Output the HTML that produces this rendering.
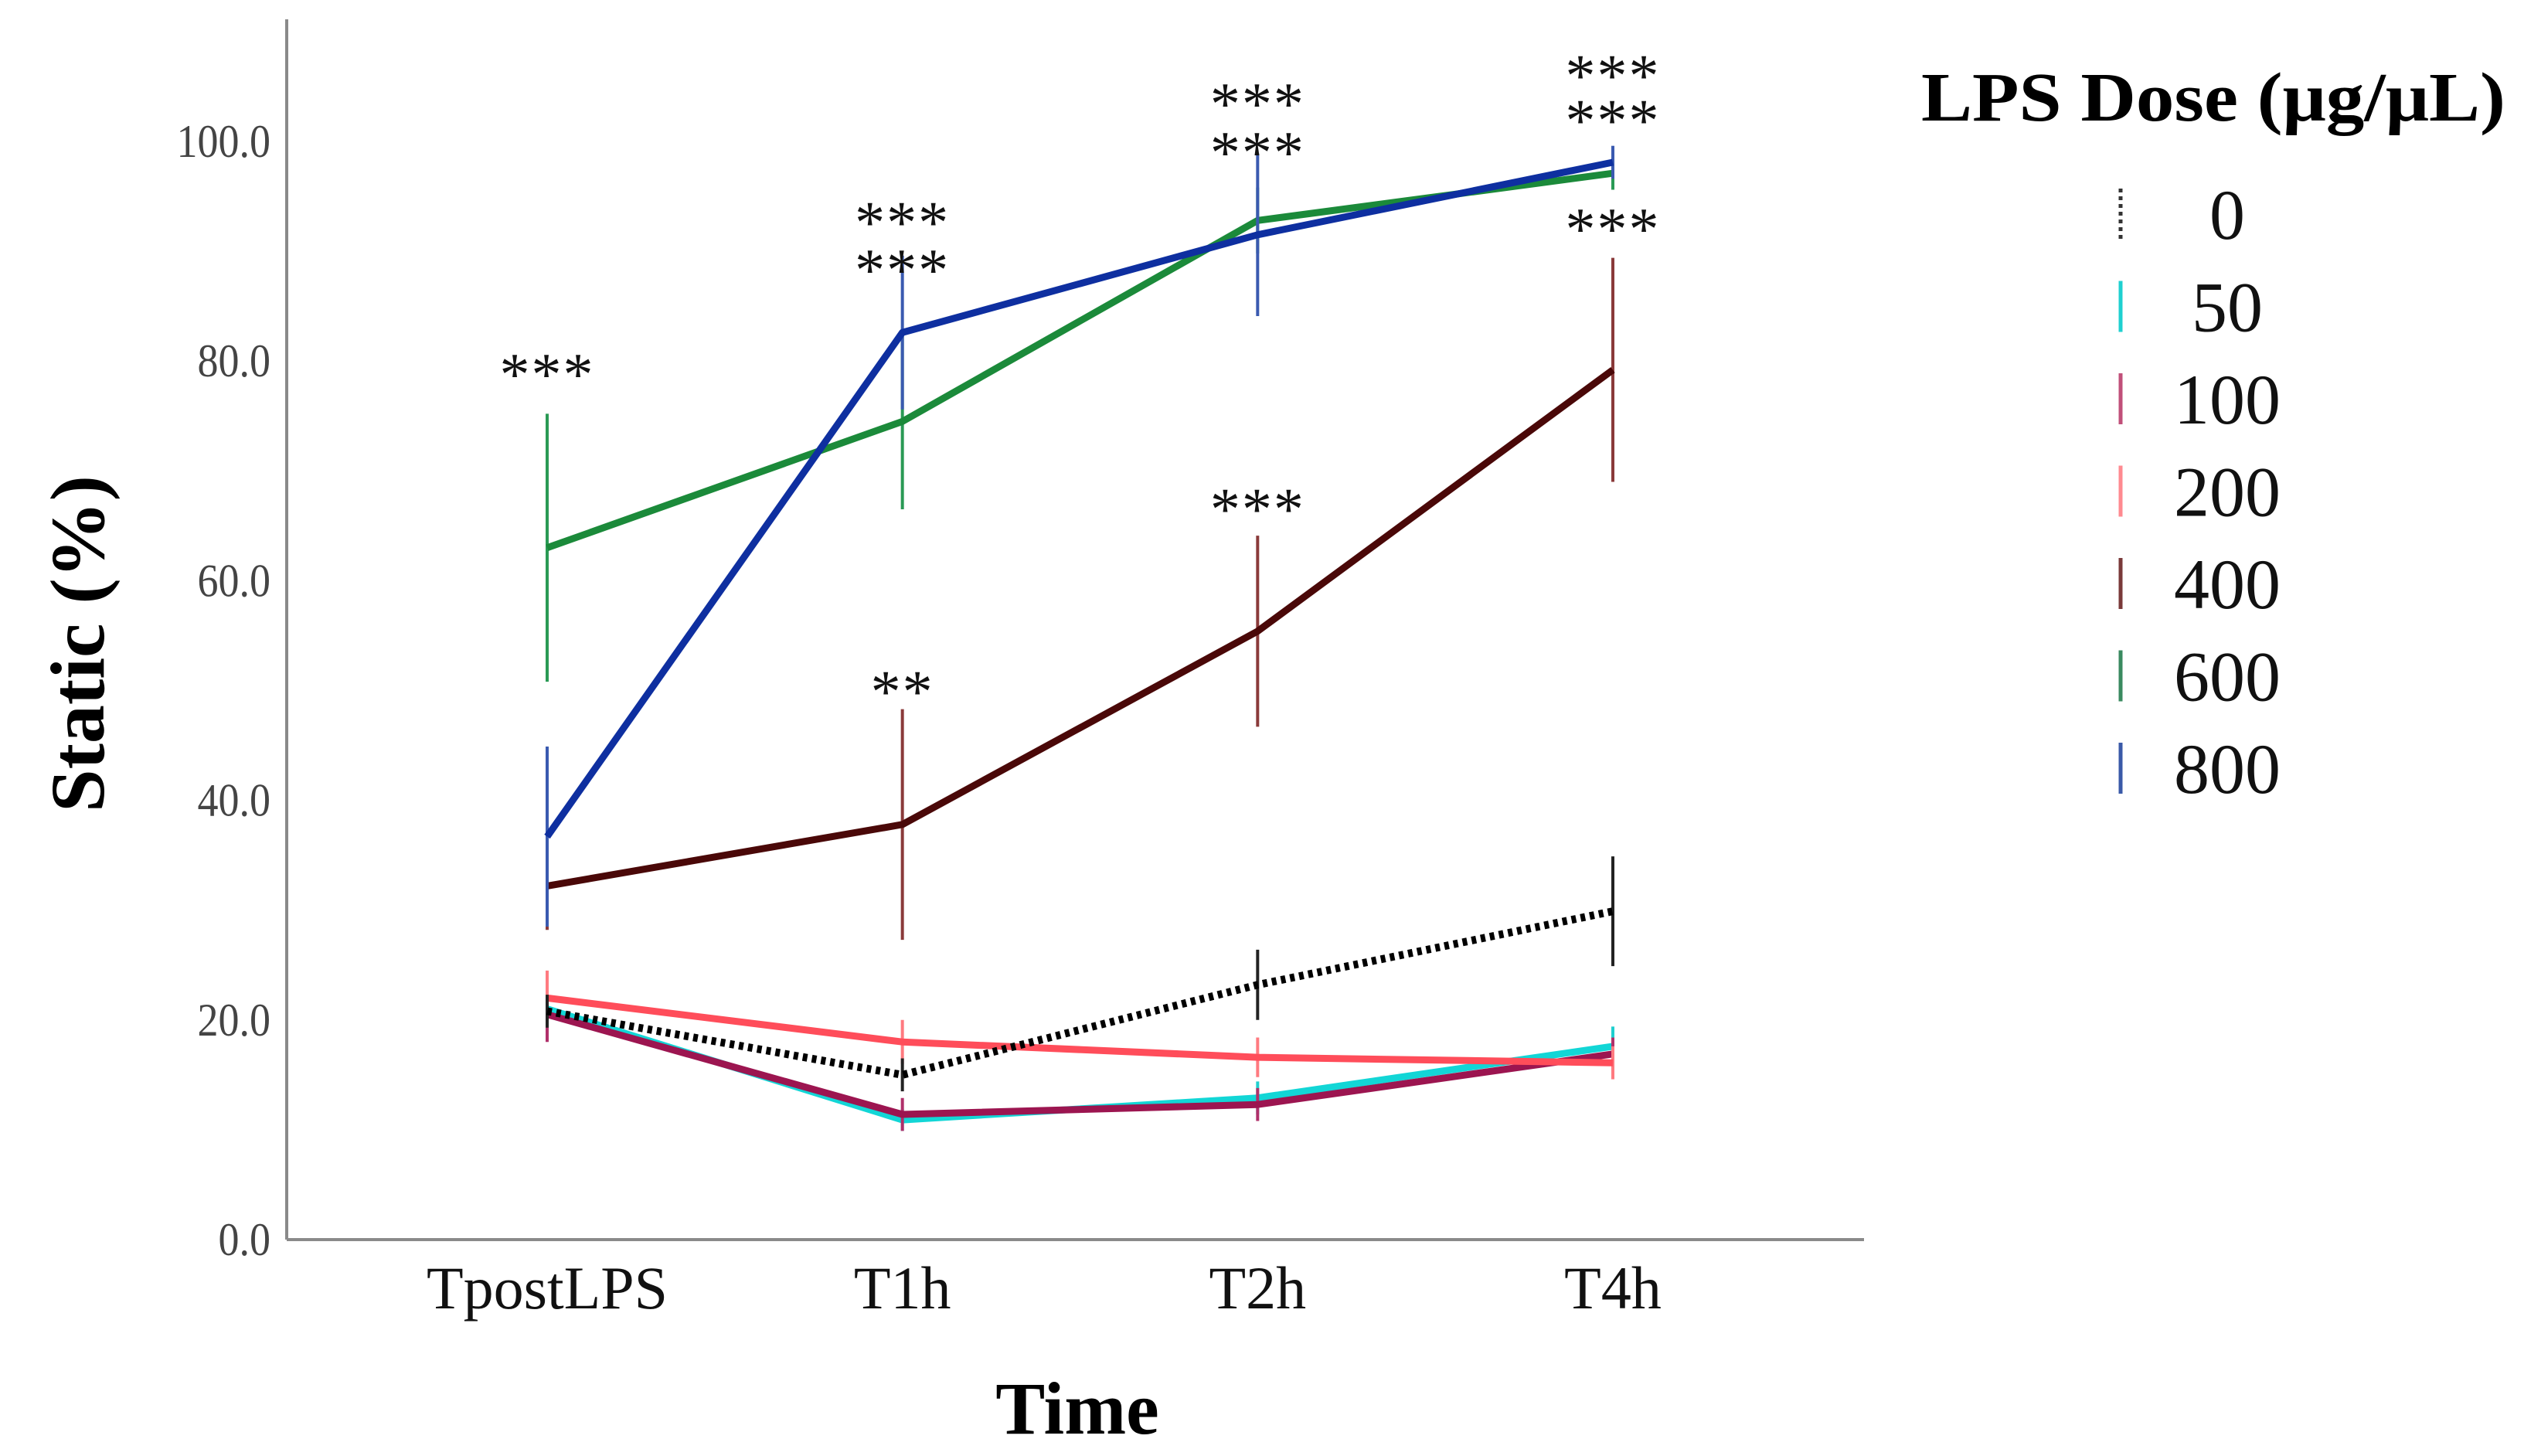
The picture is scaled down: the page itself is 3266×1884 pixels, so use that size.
<!DOCTYPE html>
<html><head><meta charset="utf-8"><style>
html,body{margin:0;padding:0;background:#fff;}
svg{display:block;}
text{font-family:"Liberation Serif","DejaVu Serif",serif;}
</style></head><body>
<svg id="chart" width="3266" height="1884" viewBox="0 0 3266 1884" xmlns="http://www.w3.org/2000/svg">
<g id="axes"></g>
<g id="series"></g>
<g id="stars"></g>
<g id="legend"></g>
</svg>
<script>
const categories = ["TpostLPS","T1h","T2h","T4h"];
const yTicks = [0,20,40,60,80,100];
const doses = ["0","50","100","200","400","600","800"];
const v0   = [20.8,15.0,23.2,29.9];
const v50  = [21.0,10.9,12.9,17.6];
const v100 = [20.5,11.4,12.3,16.9];
const v200 = [22.0,18.0,16.6,16.1];
const v400 = [32.2,37.8,55.4,79.2];
const v600 = [63.0,74.5,92.8,97.1];
const v800 = [36.7,82.6,91.5,98.1];
const e0   = [1.5,1.5,3.2,5.0];
const e50  = [1.5,1.0,1.5,1.8];
const e100 = [2.5,1.5,1.5,1.5];
const e200 = [2.5,2.0,1.8,1.5];
const e400 = [4.0,10.5,8.7,10.2];
const e600 = [12.2,8.0,3.0,1.5];
const e800 = [8.2,7.0,7.4,1.5];
const starLabels = ["***","***","***","**","***","***","***","***","***","***"];
const starCat    = [0,1,1,1,2,2,2,3,3,3];
const starVal    = [79.5,93.3,89.0,50.6,104.1,99.7,67.2,106.7,102.6,92.7];

const NS="http://www.w3.org/2000/svg";
const X0=371, XR=2412, YTOP=25, Y0=1604, Y100=183;
const catX=[708,1164,1625,2087];
function xs(i){return catX[0]+(catX[3]-catX[0])*i/(categories.length-1);}
function ys(v){return Y0-(Y0-Y100)*v/100;}
function mk(tag,attrs,parent){const e=document.createElementNS(NS,tag);for(const k in attrs)e.setAttribute(k,attrs[k]);parent.appendChild(e);return e;}

const axes=document.getElementById('axes');
let yl=mk('line',{x1:X0,y1:YTOP,x2:X0,y2:Y0,stroke:'#8a8a8a','stroke-width':4},axes);


let xl=mk('line',{x1:X0,y1:Y0,x2:XR,y2:Y0,stroke:'#8a8a8a','stroke-width':4},axes);


yTicks.forEach(t=>{
  const tx=mk('text',{x:350,y:ys(t)+20,'text-anchor':'end','font-size':60,fill:'#444',transform:`translate(350 0) scale(0.9 1) translate(-350 0)`},axes);
  tx.textContent=t.toFixed(1);
  
  
});
categories.forEach((c,i)=>{
  const tx=mk('text',{x:xs(i),y:1693,'text-anchor':'middle','font-size':78,fill:'#111'},axes);
  tx.textContent=c;
  
  
});
let xt=mk('text',{x:1394,y:1855,'text-anchor':'middle','font-size':96,'font-weight':'bold',fill:'#000'},axes);
xt.textContent='Time';


let yt=mk('text',{x:0,y:0,'text-anchor':'middle','font-size':100,'font-weight':'bold',fill:'#000',transform:'translate(134 833) rotate(-90)'},axes);
yt.textContent='Static (%)';



const seriesVals=[v0,v50,v100,v200,v400,v600,v800];
const seriesErr=[e0,e50,e100,e200,e400,e600,e800];
const lineCol=['#000','#12d6d6','#9c1550','#ff4d5a','#4a0808','#1b8a3a','#0e2fa0'];
const errCol=['#222','#1fcfcf','#b0306a','#ff7a80','#8a3a3a','#2a9a55','#3a5ab0'];
const sg=document.getElementById('series');
[1,2,3,0,4,5,6].forEach(s=>{
  const g=mk('g',{},sg);
  
  
  seriesVals[s].forEach((v,i)=>{
    const e=seriesErr[s][i];
    const b=mk('line',{x1:xs(i),x2:xs(i),y1:ys(v+e),y2:ys(v-e),stroke:errCol[s],'stroke-width':4},g);
    
    
  });
  const pts=seriesVals[s].map((v,i)=>xs(i)+','+ys(v)).join(' ');
  const attrs={points:pts,fill:'none',stroke:lineCol[s],'stroke-width':9,'stroke-linejoin':'round'};
  if(s===0){attrs['stroke-dasharray']='6 6';attrs['stroke-width']=10;}
  const pl=mk('polyline',attrs,g);
  
  
});

const stg=document.getElementById('stars');
starLabels.forEach((l,k)=>{
  const t=mk('text',{x:xs(starCat[k]),y:ys(starVal[k])+36,'text-anchor':'middle','font-size':78,fill:'#111','letter-spacing':'2'},stg);
  t.textContent=l;
  
  
});

const lg=document.getElementById('legend');
let lt=mk('text',{x:2486,y:156,'font-size':90,'font-weight':'bold',fill:'#000',textLength:756,lengthAdjust:'spacingAndGlyphs'},lg);
lt.textContent='LPS Dose (μg/μL)';


const legCol=['#333','#1fd0d0','#c0507a','#ff8a90','#7a3a3a','#3a8a60','#3a5aa8'];
doses.forEach((d,i)=>{
  const cy=277+i*119.5;
  const g=mk('g',{},lg);
  
  
  const la={x1:2744,x2:2744,y1:cy-33,y2:cy+33,stroke:legCol[i],'stroke-width':5};
  if(i===0){la['stroke-dasharray']='5 5';}
  mk('line',la,g);
  const t=mk('text',{x:2882,y:cy+32,'text-anchor':'middle','font-size':92,fill:'#111'},g);
  t.textContent=d;
});
</script>
</body></html>
